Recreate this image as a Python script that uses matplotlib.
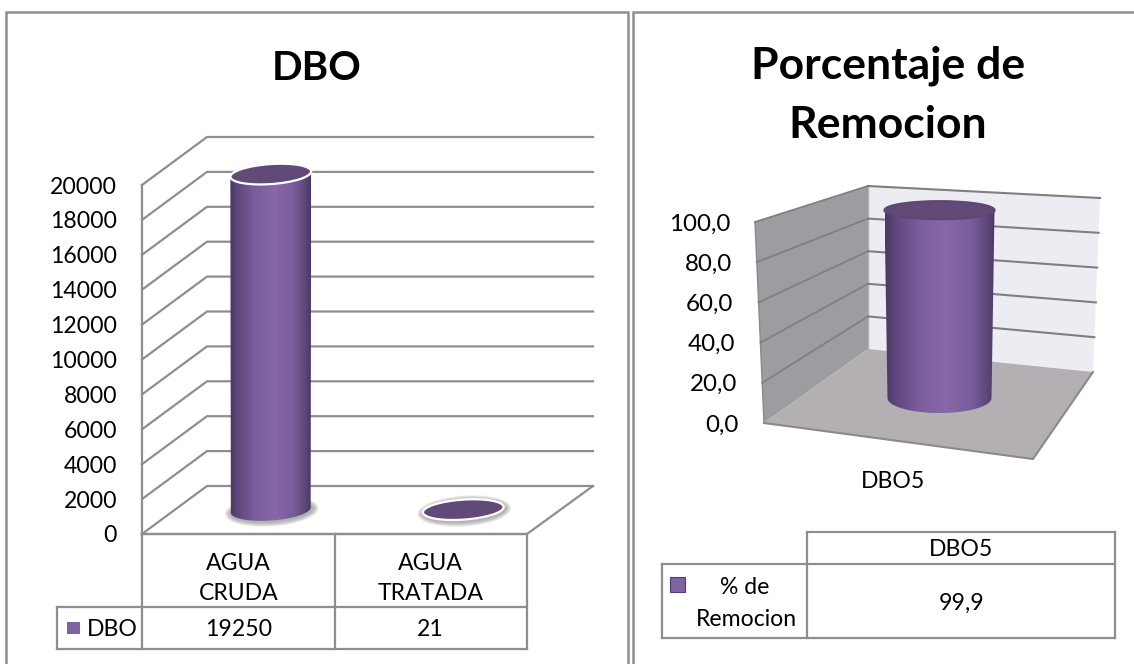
import matplotlib
matplotlib.use("Agg")
import matplotlib.pyplot as plt
import numpy as np
from matplotlib.patches import Ellipse, PathPatch, Polygon, Rectangle
from matplotlib.path import Path

plt.rcParams['font.family'] = ['Lato', 'DejaVu Sans']

# Data
dbo_categories = ["AGUA\nCRUDA", "AGUA\nTRATADA"]
dbo_values = [19250, 21]
dbo_ticks = [0, 2000, 4000, 6000, 8000, 10000, 12000, 14000, 16000, 18000, 20000]
rem_categories = ["DBO5"]
rem_values = [99.9]
rem_ticks = [0.0, 20.0, 40.0, 60.0, 80.0, 100.0]

GRID = '#8e8e8e'
TXT = '#000000'
FS = 16.6

fig = plt.figure(figsize=(11.34, 6.64), dpi=100)
ax = fig.add_axes([0, 0, 1, 1])
ax.axis('off')

# cylinder shading, dark at the edges and light just right of the middle
stops = np.array([0.0, 0.08, 0.3, 0.55, 0.8, 0.94, 1.0])
reds = np.array([0x4a, 0x5c, 0x7a, 0x89, 0x78, 0x5c, 0x4a])
greens = np.array([0x38, 0x46, 0x5e, 0x67, 0x5c, 0x46, 0x38])
blues = np.array([0x62, 0x7a, 0x9c, 0xaa, 0x9a, 0x78, 0x62])
u = np.linspace(0, 1, 256)
shade = np.dstack([np.interp(u, stops, reds), np.interp(u, stops, greens),
                   np.interp(u, stops, blues)]).astype(np.uint8)


def ellipse_pts(cx, cy, a, b, tilt, t):
    r = np.radians(tilt)
    x = a * np.cos(t)
    y = b * np.sin(t)
    return cx + x * np.cos(r) - y * np.sin(r), cy + x * np.sin(r) + y * np.cos(r)


def cylinder(cx, top, base, a_top, b_top, a_bot, b_bot, tilt, lid_edge, z=5):
    t = np.linspace(np.pi, 0, 60)
    xb, yb = ellipse_pts(cx, base, a_bot, b_bot, tilt, t)
    xt, yt = ellipse_pts(cx, top, a_top, b_top, tilt, t[::-1])
    verts = np.column_stack([np.r_[xb, xt], np.r_[yb, yt]])
    body = PathPatch(Path(np.vstack([verts, verts[0]]), closed=True), fc='none', ec='none', zorder=z)
    ax.add_patch(body)
    a = max(a_top, a_bot)
    im = ax.imshow(shade, extent=(cx - a, cx + a, base + b_bot + 4, top - b_top),
                   aspect='auto', zorder=z, interpolation='bilinear')
    im.set_clip_path(body)
    ax.add_patch(Ellipse((cx, top), 2 * a_top, 2 * b_top, angle=tilt, fc='#614a78',
                         ec=lid_edge, lw=1.6, zorder=z + 1))


def table_lines(xs, ys):
    ax.plot(xs, ys, color=GRID, lw=1.6, solid_capstyle='projecting', zorder=3)


def label(x, y, s, **kw):
    ax.text(x, y + 2, s, fontsize=kw.pop('fontsize', FS), color=TXT, ha=kw.pop('ha', 'center'),
            va='center', zorder=8, **kw)


# panel frames
ax.add_patch(Rectangle((6, 12), 622, 670, fc='white', ec=GRID, lw=1.8))
ax.add_patch(Rectangle((633, 12), 520, 670, fc='white', ec=GRID, lw=1.8))

# --- left chart ---
x0, y0 = 142, 534      # front corner at value 0
dx, dy = 65, -48       # depth of the floor
width = 385            # front edge length
px_per_unit = 349 / 20000

for v in dbo_ticks:
    y = y0 - v * px_per_unit
    ax.plot([x0, x0 + dx, x0 + dx + width + 1], [y, y + dy, y + dy], color=GRID, lw=1.6, zorder=2)
    label(117, y, str(v), ha='right')
ax.plot([x0, x0], [y0, y0 - dbo_ticks[-1] * px_per_unit], color=GRID, lw=1.6, zorder=2)
ax.plot([x0 + dx + width + 1, x0 + width, x0], [y0 + dy, y0, y0], color=GRID, lw=1.6, zorder=2)

step = width / len(dbo_values)
for i, v in enumerate(dbo_values):
    cx = x0 + (i + 0.5) * step + dx / 2
    base = y0 + dy / 2
    top = base - v * px_per_unit
    # soft halo on the floor
    for k in range(6):
        ax.add_patch(Ellipse((cx + 1, base + 1), 2 * (40 + 7 - k), 2 * (10.5 + 5 - k * 0.8), angle=-4,
                             fc='#7a7a7a', ec='none', alpha=0.12, zorder=4))
    cylinder(cx, top, base, 40.5, 10, 40, 10.5, -4, 'white')

# left data table
row1, row2, row3 = y0 + 73, y0 + 115, y0
table_lines([x0, x0 + width], [row3, row3])
table_lines([57, x0 + width], [row1, row1])
table_lines([57, x0 + width], [row2, row2])
table_lines([57, 57], [row1, row2])
for i in range(len(dbo_values) + 1):
    table_lines([x0 + i * step] * 2, [row3, row2])
ax.add_patch(Rectangle((67, 622), 13, 12, fc='#8064a2', ec='none', zorder=6))
label(112, 628, "DBO")
for i, (c, v) in enumerate(zip(dbo_categories, dbo_values)):
    xc = x0 + (i + 0.5) * step
    a, b = c.split("\n")
    label(xc, 561, a)
    label(xc, 592, b)
    label(xc, 628, str(v))

label(317, 66, "DBO", fontsize=29, fontweight='bold')

# --- right chart ---
h_front, h_back, h_right = 201, 163, 174
fl = np.array([764, 423])      # floor, front left
bl = np.array([868, 349])      # floor, back corner
br = np.array([1093, 372])     # floor, back right
fr = np.array([1033, 459])     # floor, front right
lean_f, lean_r = -9, 7         # top of the walls leans outwards
vmax = rem_ticks[-1]


def front_pt(v):
    return fl[0] + lean_f * v / vmax, fl[1] - h_front * v / vmax


def back_pt(v):
    return bl[0], bl[1] - h_back * v / vmax


def right_pt(v):
    return br[0] + lean_r * v / vmax, br[1] - h_right * v / vmax


ax.add_patch(Polygon([front_pt(0), back_pt(0), back_pt(vmax), front_pt(vmax)], fc='#9d9da1', ec='none', zorder=1))
ax.add_patch(Polygon([back_pt(0), right_pt(0), right_pt(vmax), back_pt(vmax)], fc='#eeecf3', ec='none', zorder=1))
ax.add_patch(Polygon([fl, bl, br, fr], fc='#b3afb3', ec='none', zorder=1))
ax.plot([fl[0], fr[0], br[0]], [fl[1], fr[1], br[1]], color='#8a8a8a', lw=1.5, zorder=2)
ax.plot([fl[0], front_pt(vmax)[0]], [fl[1], front_pt(vmax)[1]], color='#8a8a8a', lw=1, zorder=2)
ax.plot([bl[0], back_pt(vmax)[0]], [bl[1], back_pt(vmax)[1]], color='#b0b0b0', lw=1, zorder=2)

for v in rem_ticks:
    fx, fy = front_pt(v)
    bx, by = back_pt(v)
    rx, ry = right_pt(v)
    if v > 0:
        ax.plot([fx, bx], [fy, by], color='#808080', lw=1.3, zorder=2)
        ax.plot([bx, rx], [by, ry], color='#7f7f7f', lw=1.5, zorder=2)
    # the tick labels follow the slant of the wall
    label(fx - 25, fy, f"{v:.1f}".replace('.', ','), ha='right', fontsize=17.4)

cx = (fl[0] + bl[0] + br[0] + fr[0]) / 4
base = 398
rem_scale = 1.88
cylinder(cx, base - rem_values[0] * rem_scale, base, 55, 9, 52, 15, 0, '#5d4775')

label(893, 479, rem_categories[0])

# right data table
tx0, tx1, tx2 = 662, 807, 1115
ry0, ry1, ry2 = 532, 564, 638
table_lines([tx1, tx2], [ry0, ry0])
table_lines([tx0, tx2], [ry1, ry1])
table_lines([tx0, tx2], [ry2, ry2])
table_lines([tx0, tx0], [ry1, ry2])
table_lines([tx1, tx1], [ry0, ry2])
table_lines([tx2, tx2], [ry0, ry2])
ax.add_patch(Rectangle((670, 577), 15, 15, fc='#8064a2', ec='#4f3c78', lw=0.8, zorder=6))
label(745, 585, "% de")
label(746, 617, "Remocion")
label(961, 548, rem_categories[0])
label(962, 601, f"{rem_values[0]:.1f}".replace('.', ','))

label(888, 64, "Porcentaje de", fontsize=32, fontweight='bold')
label(888, 123, "Remocion", fontsize=32, fontweight='bold')

ax.set_xlim(0, 1134)
ax.set_ylim(664, 0)
fig.savefig("out.png", dpi=100)
